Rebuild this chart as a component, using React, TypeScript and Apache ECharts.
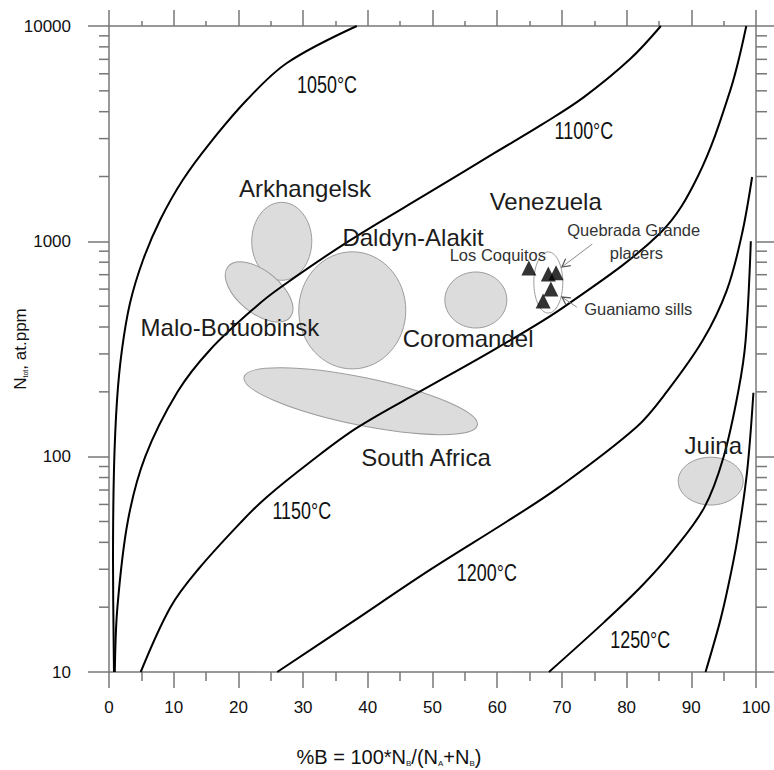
import React, { useEffect, useRef } from "react";
import * as echarts from "echarts";

// ---------- data ----------
const Y_MINOR = [
  20, 30, 40, 50, 60, 70, 80, 90,
  200, 300, 400, 500, 600, 700, 800, 900,
  2000, 3000, 4000, 5000, 6000, 7000, 8000, 9000,
];

// isotherms: [%B, N ppm]
const CURVE_1050 = [
  [0.77, 10], [0.62, 33], [0.77, 87], [1.24, 183], [2.0, 313], [3.25, 517], [5.26, 819],
  [7.9, 1256], [11.4, 1927], [15.6, 2861], [21.3, 4532], [27.5, 6733], [38.3, 10000],
];
const CURVE_1100 = [
  [0.9, 10], [1.3, 20], [2.9, 50], [5.6, 100], [10.6, 200], [15.6, 313], [22.8, 500],
  [26.6, 614], [37, 1000], [49.7, 1700], [59.6, 2573], [67, 3500], [73.4, 4674], [80.5, 7000], [85.3, 10000],
];
const CURVE_1150 = [
  [4.9, 10], [9.5, 20], [13.8, 30], [20.5, 50], [24.4, 65], [31, 94], [38.3, 136], [48.5, 204],
  [60, 320], [70.5, 500], [85.2, 1094], [91, 2000], [96, 5000], [98.5, 10000],
];
const CURVE_1200 = [
  [26, 10], [37.5, 17], [49.6, 29.8], [61.5, 50], [69.5, 72], [81.5, 137], [86.2, 200],
  [91.8, 348], [95.5, 594], [97.8, 1070], [99.4, 1990],
];
const CURVE_1250 = [
  [68, 10], [76.5, 17], [82.3, 25], [87, 36], [92, 58], [95, 100], [97.3, 204],
  [98.4, 348], [99.2, 1000],
];
const CURVE_1300 = [
  [92.2, 10], [94.4, 17], [95.7, 25], [97.1, 41], [98.6, 84], [99.6, 198],
];
const CURVES = [CURVE_1050, CURVE_1100, CURVE_1150, CURVE_1200, CURVE_1250, CURVE_1300];

// fields: [center %B, center N, half-width (%B), half-height (decades), tilt deg, filled]
const FIELDS = [
  [26.7, 1000, 4.64, 0.181, 0, 1],   // Arkhangelsk
  [23.2, 582, 6.2, 0.098, 39, 1],    // Malo-Botuobinsk
  [37.6, 478, 8.27, 0.272, 0, 1],    // Daldyn-Alakit
  [56.7, 534, 4.79, 0.13, 0, 1],     // Coromandel
  [38.9, 181, 18.4, 0.111, 11.6, 1], // South Africa
  [93.0, 77, 5.02, 0.111, 0, 1],     // Juina
  [67.9, 644, 2.24, 0.142, 0, 0],    // Venezuela group outline
];

// Venezuela samples
const VENEZUELA_PTS = [[64.9, 751], [67.9, 705], [69.1, 714], [68.3, 600], [67.1, 528]];

// arrows: [from %B, from N, to %B, to N]
const ARROWS = [[74.7, 972, 70.0, 760], [72.3, 495, 70.0, 551]];

const REGION_NAMES = ["Arkhangelsk", "Daldyn-Alakit", "Malo-Botuobinsk", "Coromandel", "South Africa", "Venezuela", "Juina"];
const REGION_AT = [[30.3, 1750], [47.0, 1047], [18.7, 396], [55.5, 352], [49.0, 98.6], [67.5, 1539], [93.4, 113]];

const SITE_NAMES = ["Los Coquitos", "Quebrada Grande", "placers", "Guaniamo sills"];
const SITE_AT = [[60.1, 864], [81.1, 1129], [81.5, 883], [81.8, 485]];

const ISO_NAMES = ["1050°C", "1100°C", "1150°C", "1200°C", "1250°C"];
const ISO_AT = [[33.7, 5322], [73.4, 3254], [29.8, 56], [58.4, 28.8], [82.1, 14.2]];

// ---------- style ----------
const AX = "#777";
const SANS = "'Liberation Sans', Arial, sans-serif";

function textSeries(names: string[], at: number[][], size: number, color: string, sx: number) {
  return {
    type: "custom",
    silent: true,
    z: 10,
    clip: false,
    data: at,
    renderItem: (params: any, api: any) => {
      const p = api.coord([api.value(0), api.value(1)]);
      return {
        type: "text",
        x: p[0],
        y: p[1],
        scaleX: sx,
        style: {
          text: names[params.dataIndex],
          fontSize: size,
          fontFamily: SANS,
          fill: color,
          align: "center",
          verticalAlign: "middle",
        },
      };
    },
  };
}

function buildOption() {
  const axisCommonX = {
    type: "value",
    min: 0,
    max: 100,
    interval: 10,
    axisLine: { show: true, onZero: false, lineStyle: { color: AX, width: 1.5 } },
    splitLine: { show: false },
  };
  const axisCommonY = {
    type: "log",
    logBase: 10,
    min: 10,
    max: 10000,
    axisLine: { show: true, onZero: false, lineStyle: { color: AX, width: 1.5 } },
    splitLine: { show: false },
    minorTick: { show: false },
  };
  return {
    animation: false,
    backgroundColor: "#fff",
    grid: { left: 109, top: 26, right: 18, bottom: 98, containLabel: false, outerBoundsMode: "none" },
    xAxis: [
      {
        ...axisCommonX,
        position: "bottom",
        axisTick: { show: true, inside: false, length: 16, lineStyle: { color: AX, width: 1.5 } },
        minorTick: { show: true, splitNumber: 2, length: 9, lineStyle: { color: AX, width: 1.5 } },
        axisLabel: { margin: 27, fontSize: 17, fontFamily: SANS, color: "#111" },
      },
      {
        ...axisCommonX,
        position: "top",
        axisTick: { show: true, inside: false, length: 16, lineStyle: { color: AX, width: 1.5 } },
        minorTick: { show: true, splitNumber: 2, length: 5, lineStyle: { color: AX, width: 1.5 } },
        axisLabel: { show: false },
      },
    ],
    yAxis: [
      {
        ...axisCommonY,
        position: "left",
        axisTick: { show: true, inside: false, length: 21, lineStyle: { color: AX, width: 1.5 } },
        axisLabel: {
          margin: 38,
          fontSize: 17,
          fontFamily: SANS,
          color: "#111",
          formatter: (v: number) => String(Math.round(v)),
        },
      },
      {
        ...axisCommonY,
        position: "right",
        axisTick: { show: true, inside: false, length: 18, lineStyle: { color: AX, width: 1.5 } },
        axisLabel: { show: false },
      },
    ],
    graphic: [
      {
        type: "text",
        x: 20,
        y: 349,
        rotation: Math.PI / 2,
        style: {
          text: "N{s|tot}, at.ppm",
          fontSize: 17,
          fontFamily: SANS,
          fill: "#111",
          align: "center",
          verticalAlign: "middle",
          rich: { s: { fontSize: 7, fontFamily: SANS, fill: "#111", verticalAlign: "bottom" } },
        },
      },
      {
        type: "text",
        x: 389,
        y: 757,
        style: {
          text: "%B = 100*N{s|B}/(N{s|A}+N{s|B})",
          fontSize: 20,
          fontFamily: SANS,
          fill: "#111",
          align: "center",
          verticalAlign: "middle",
          rich: { s: { fontSize: 8, fontFamily: SANS, fill: "#111", verticalAlign: "bottom" } },
        },
      },
    ],
    series: [
      // minor ticks of the log axes
      {
        type: "custom",
        silent: true,
        clip: false,
        z: 1,
        data: Y_MINOR.map((v) => [0, v]),
        renderItem: (params: any, api: any) => {
          const v = api.value(1);
          const l = api.coord([0, v]);
          const r = api.coord([100, v]);
          const st = { stroke: AX, lineWidth: 1.5 };
          return {
            type: "group",
            children: [
              { type: "line", shape: { x1: l[0] - 10, y1: l[1], x2: l[0], y2: l[1] }, style: st },
              { type: "line", shape: { x1: r[0], y1: r[1], x2: r[0] + 11, y2: r[1] }, style: st },
            ],
          };
        },
      },
      // fields
      {
        type: "custom",
        silent: true,
        z: 2,
        data: FIELDS,
        renderItem: (params: any, api: any) => {
          const cx = api.value(0);
          const cy = api.value(1);
          const rx = api.value(2);
          const ry = api.value(3);
          const tilt = api.value(4);
          const filled = api.value(5);
          const c = api.coord([cx, cy]);
          const px = api.coord([cx + rx, cy]);
          const py = api.coord([cx, cy * Math.pow(10, ry)]);
          return {
            type: "ellipse",
            x: c[0],
            y: c[1],
            rotation: (-tilt * Math.PI) / 180,
            shape: { cx: 0, cy: 0, rx: Math.abs(px[0] - c[0]), ry: Math.abs(c[1] - py[1]) },
            style: {
              fill: filled ? "#dcdcdc" : "none",
              stroke: "#9c9c9c",
              lineWidth: 1,
            },
          };
        },
      },
      // isotherms
      ...CURVES.map((d) => ({
        type: "line",
        data: d,
        smooth: 0.35,
        showSymbol: false,
        symbol: "none",
        silent: true,
        z: 3,
        lineStyle: { color: "#000", width: 2 },
      })),
      // arrows
      {
        type: "custom",
        silent: true,
        z: 4,
        data: ARROWS,
        renderItem: (params: any, api: any) => {
          const a = api.coord([api.value(0), api.value(1)]);
          const b = api.coord([api.value(2), api.value(3)]);
          const ang = Math.atan2(b[1] - a[1], b[0] - a[0]);
          const L = 9;
          const w = 0.5;
          const h1 = [b[0] - L * Math.cos(ang - w), b[1] - L * Math.sin(ang - w)];
          const h2 = [b[0] - L * Math.cos(ang + w), b[1] - L * Math.sin(ang + w)];
          return {
            type: "group",
            children: [
              { type: "line", shape: { x1: a[0], y1: a[1], x2: b[0], y2: b[1] }, style: { stroke: "#8a8a8a", lineWidth: 1 } },
              { type: "polyline", shape: { points: [h1, b, h2] }, style: { stroke: "#555", lineWidth: 1.2, fill: "none" } },
            ],
          };
        },
      },
      // samples
      {
        type: "scatter",
        data: VENEZUELA_PTS,
        symbol: "triangle",
        symbolSize: 15,
        silent: true,
        z: 5,
        itemStyle: { color: "#000" },
      },
      textSeries(REGION_NAMES, REGION_AT, 24, "#1c1c1c", 1),
      textSeries(SITE_NAMES, SITE_AT, 16.5, "#333", 1),
      textSeries(ISO_NAMES, ISO_AT, 23, "#111", 0.78),
    ],
  };
}

export default function App() {
  const ref = useRef<HTMLDivElement>(null);
  useEffect(() => {
    document.body.style.margin = "0";
    const chart = echarts.init(ref.current as HTMLDivElement, undefined, { renderer: "svg" });
    chart.setOption(buildOption() as any);
    return () => chart.dispose();
  }, []);
  return (
    <div
      ref={ref}
      style={{ position: "absolute", left: 0, top: 0, width: 774, height: 770, background: "#fff" }}
    />
  );
}
